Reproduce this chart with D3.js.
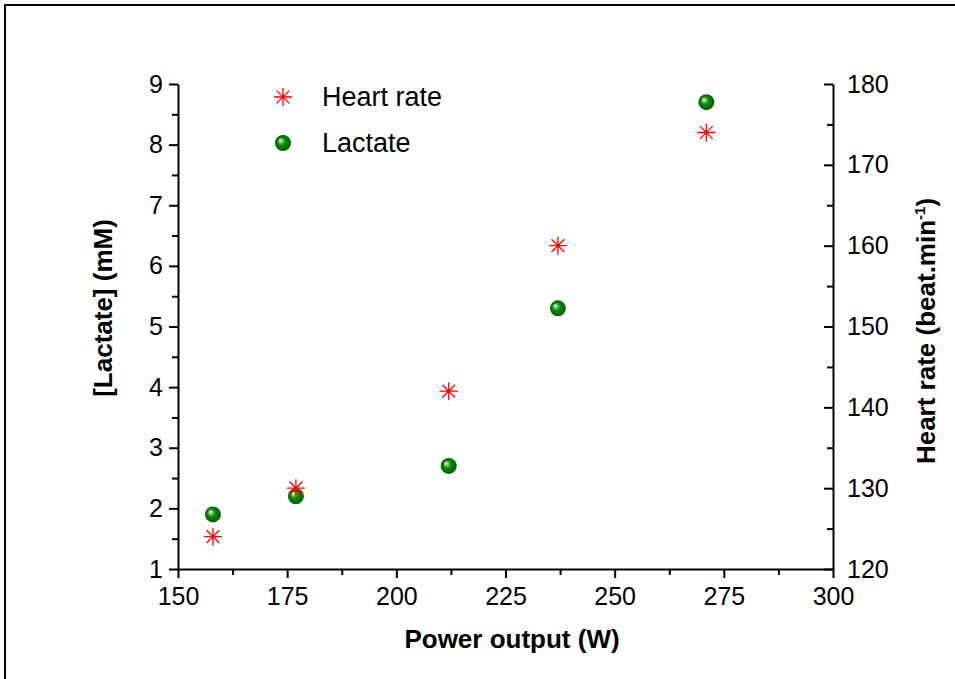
<!DOCTYPE html>
<html>
<head>
<meta charset="utf-8">
<script src="https://cdn.jsdelivr.net/npm/d3@7"></script>
<style>
  body { margin: 0; background: #fff; }
  svg { display: block; font-family: "Liberation Sans", Arial, sans-serif; }
</style>
</head>
<body>
<div id="chart"></div>
<script>
  // values
  let power = [158, 177, 212, 237, 271];
  let lactate = [1.9, 2.2, 2.7, 5.3, 8.7];
  let heartRate = [124, 130, 142, 160, 174];
  let xTicks = [150, 175, 200, 225, 250, 275, 300];
  let lacTicks = [1, 2, 3, 4, 5, 6, 7, 8, 9];
  let hrTicks = [120, 130, 140, 150, 160, 170, 180];

  let width = 955, height = 679;

  let svg = d3.select('#chart')
    .append('svg')
    .attr('width', width)
    .attr('height', height);

  // outer frame (only left and top edges show)
  svg.append('path')
    .attr('d', 'M5,' + height + 'V5H' + width)
    .attr('fill', 'none')
    .attr('stroke', '#000')
    .attr('stroke-width', 2);

  let x = d3.scaleLinear().domain([150, 300]).range([178, 833]);
  let yL = d3.scaleLinear().domain([1, 9]).range([569, 84]);
  let yR = d3.scaleLinear().domain([120, 180]).range([569, 84]);

  let defs = svg.append('defs');
  let grad = defs.append('radialGradient')
    .attr('id', 'ball')
    .attr('cx', '50%').attr('cy', '50%').attr('r', '50%')
    .attr('fx', '32%').attr('fy', '32%');
  grad.append('stop').attr('offset', '0%').attr('stop-color', '#ffffff');
  grad.append('stop').attr('offset', '22%').attr('stop-color', '#7cc47c');
  grad.append('stop').attr('offset', '50%').attr('stop-color', '#0a880a');
  grad.append('stop').attr('offset', '100%').attr('stop-color', '#006000');

  function styleAxis(g) {
    g.selectAll('.domain').attr('stroke', '#000').attr('stroke-width', 2);
    g.selectAll('.tick line').attr('stroke', '#000').attr('stroke-width', 2);
    g.selectAll('.tick text').attr('font-size', 25).attr('fill', '#000')
      .attr('font-family', '"Liberation Sans", Arial, sans-serif');
  }

  function minors(lo, hi, step) {
    let out = [];
    for (let v = lo; v <= hi + 1e-9; v += step) out.push(v);
    return out;
  }

  function minorAxis(axis) {
    return function(g) {
      g.call(axis.tickSize(6).tickFormat(''));
      g.select('.domain').remove();
      g.selectAll('.tick line').attr('stroke', '#000').attr('stroke-width', 2);
    };
  }

  // bottom axis
  svg.append('g').attr('transform', 'translate(0,569)')
    .call(minorAxis(d3.axisBottom(x).tickValues(minors(162.5, 287.5, 25))));
  svg.append('g').attr('transform', 'translate(0,569)')
    .call(d3.axisBottom(x).tickValues(xTicks).tickSize(9).tickSizeOuter(0).tickPadding(9).tickFormat(d3.format('d')))
    .call(styleAxis);

  // left axis
  svg.append('g').attr('transform', 'translate(178,0)')
    .call(minorAxis(d3.axisLeft(yL).tickValues(minors(1.5, 8.5, 1))));
  svg.append('g').attr('transform', 'translate(178,0)')
    .call(d3.axisLeft(yL).tickValues(lacTicks).tickSize(9).tickSizeOuter(0).tickPadding(6).tickFormat(d3.format('d')))
    .call(styleAxis);

  // right axis: ticks point into the plot, labels outside
  svg.append('g').attr('transform', 'translate(833,0)')
    .call(minorAxis(d3.axisLeft(yR).tickValues(minors(125, 175, 10))));
  let gr = svg.append('g').attr('transform', 'translate(833,0)')
    .call(d3.axisRight(yR).tickValues(hrTicks).tickSize(0).tickSizeOuter(0).tickPadding(14).tickFormat(d3.format('d')))
    .call(styleAxis);
  gr.selectAll('.tick line').attr('x2', -9);

  // axis titles
  svg.append('text')
    .attr('x', 512).attr('y', 648)
    .attr('text-anchor', 'middle')
    .attr('font-size', 26).attr('font-weight', 'bold')
    .text('Power output (W)');

  svg.append('text')
    .attr('transform', 'translate(112,308) rotate(-90)')
    .attr('text-anchor', 'middle')
    .attr('font-size', 26).attr('font-weight', 'bold')
    .text('[Lactate] (mM)');

  let rt = svg.append('text')
    .attr('transform', 'translate(935,331) rotate(-90)')
    .attr('text-anchor', 'middle')
    .attr('font-size', 26).attr('font-weight', 'bold');
  rt.append('tspan').text('Heart rate (beat.min');
  rt.append('tspan').attr('font-size', 15).attr('dy', -10).text('-1');
  rt.append('tspan').attr('dy', 10).text(')');

  function star(g, cx, cy) {
    let r = 9, d = r * Math.SQRT1_2;
    g.append('path')
      .attr('d', 'M' + (cx - r) + ',' + cy + 'H' + (cx + r) +
                 'M' + cx + ',' + (cy - r) + 'V' + (cy + r) +
                 'M' + (cx - d) + ',' + (cy - d) + 'L' + (cx + d) + ',' + (cy + d) +
                 'M' + (cx - d) + ',' + (cy + d) + 'L' + (cx + d) + ',' + (cy - d))
      .attr('stroke', '#ff0000')
      .attr('stroke-width', 1.3)
      .attr('fill', 'none');
  }

  function ball(g, cx, cy) {
    g.append('circle')
      .attr('cx', cx).attr('cy', cy).attr('r', 8)
      .attr('fill', 'url(#ball)');
  }

  let marks = svg.append('g');
  power.forEach(function(p, i) {
    ball(marks, x(p), yL(lactate[i]));
  });
  power.forEach(function(p, i) {
    star(marks, x(p), yR(heartRate[i]));
  });

  // legend
  let leg = svg.append('g');
  star(leg, 283, 97);
  ball(leg, 283, 143);
  leg.append('text').attr('x', 322).attr('y', 106).attr('font-size', 27).text('Heart rate');
  leg.append('text').attr('x', 322).attr('y', 152).attr('font-size', 27).text('Lactate');
</script>
</body>
</html>
